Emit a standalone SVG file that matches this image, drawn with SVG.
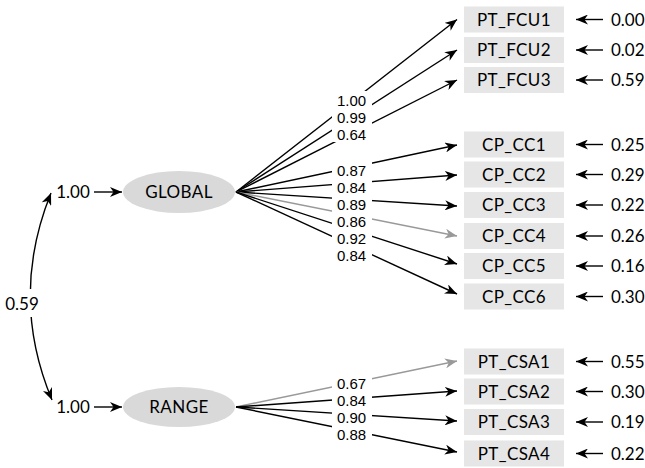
<svg xmlns="http://www.w3.org/2000/svg" width="645" height="468" viewBox="0 0 645 468">
<style>
text{font-family:Lato,"Open Sans","Liberation Sans",sans-serif;font-size:17px;fill:#000}
.n{letter-spacing:0.4px}
.l{font-family:"Liberation Sans",Arial,sans-serif;font-size:15px}
.box{fill:#e6e6e6}
.lat{fill:#d9d9d9}
.c{text-anchor:middle}
.e{stroke:#000;stroke-width:1.4;fill:none;marker-end:url(#ah)}
.g{stroke:#999;stroke-width:1.4;fill:none;marker-end:url(#ahg)}
.bg{fill:#fff}
</style>
<defs>
<marker id="ah" markerUnits="userSpaceOnUse" markerWidth="13" markerHeight="10" refX="12" refY="5" orient="auto-start-reverse" viewBox="0 0 13 10"><path d="M0,0 L12,5 L0,10 L3.5,5 z" fill="#000"/></marker>
<marker id="ahg" markerUnits="userSpaceOnUse" markerWidth="13" markerHeight="10" refX="12" refY="5" orient="auto" viewBox="0 0 13 10"><path d="M0,0 L12,5 L0,10 L3.5,5 z" fill="#999"/></marker>
</defs>
<g id="connectors">
<path class="e" d="M51,193 Q9,297 52,400" marker-start="url(#ah)"/>
<rect class="bg" x="0" y="289" width="45" height="28"/>
<line class="e" x1="94" y1="192" x2="122" y2="192"/>
<line class="e" x1="94" y1="407" x2="122" y2="407"/>
<line class="e" x1="236" y1="192" x2="457" y2="19.5"/>
<line class="e" x1="236" y1="192" x2="457" y2="50"/>
<line class="e" x1="236" y1="192" x2="457" y2="80"/>
<line class="e" x1="236" y1="192" x2="457" y2="145"/>
<line class="e" x1="236" y1="192" x2="457" y2="175"/>
<line class="e" x1="236" y1="192" x2="457" y2="206"/>
<line class="g" x1="236" y1="192" x2="457" y2="236"/>
<line class="e" x1="236" y1="192" x2="457" y2="264"/>
<line class="e" x1="236" y1="192" x2="457" y2="294"/>
<line class="g" x1="236" y1="407" x2="457" y2="361"/>
<line class="e" x1="236" y1="407" x2="457" y2="391"/>
<line class="e" x1="236" y1="407" x2="457" y2="421"/>
<line class="e" x1="236" y1="407" x2="457" y2="452"/>
<line class="e" x1="603" y1="19.5" x2="576" y2="19.5"/>
<line class="e" x1="603" y1="50" x2="576" y2="50"/>
<line class="e" x1="603" y1="80" x2="576" y2="80"/>
<line class="e" x1="603" y1="144.5" x2="576" y2="144.5"/>
<line class="e" x1="603" y1="174.5" x2="576" y2="174.5"/>
<line class="e" x1="603" y1="205" x2="576" y2="205"/>
<line class="e" x1="603" y1="236" x2="576" y2="236"/>
<line class="e" x1="603" y1="266" x2="576" y2="266"/>
<line class="e" x1="603" y1="296.5" x2="576" y2="296.5"/>
<line class="e" x1="603" y1="361.5" x2="576" y2="361.5"/>
<line class="e" x1="603" y1="391.5" x2="576" y2="391.5"/>
<line class="e" x1="603" y1="422" x2="576" y2="422"/>
<line class="e" x1="603" y1="453.5" x2="576" y2="453.5"/>
<rect class="bg" x="332" y="91" width="40" height="51"/>
<rect class="bg" x="332" y="161" width="40" height="102"/>
<rect class="bg" x="332" y="374" width="40" height="68"/>
</g>
<g id="labels">
<text class="c" x="22" y="310">0.59</text>
<text class="c" x="73" y="198">1.00</text>
<text class="c" x="73" y="413">1.00</text>
<text class="c l" x="351.5" y="105.5">1.00</text>
<text class="c l" x="351.5" y="122.5">0.99</text>
<text class="c l" x="351.5" y="139.5">0.64</text>
<text class="c l" x="351.5" y="175.5">0.87</text>
<text class="c l" x="351.5" y="192.5">0.84</text>
<text class="c l" x="351.5" y="209.5">0.89</text>
<text class="c l" x="351.5" y="226.5">0.86</text>
<text class="c l" x="351.5" y="243.5">0.92</text>
<text class="c l" x="351.5" y="260.5">0.84</text>
<text class="c l" x="351.5" y="388.5">0.67</text>
<text class="c l" x="351.5" y="405.5">0.84</text>
<text class="c l" x="351.5" y="422.5">0.90</text>
<text class="c l" x="351.5" y="439.5">0.88</text>
<text x="611" y="25.5">0.00</text>
<text x="611" y="56">0.02</text>
<text x="611" y="86">0.59</text>
<text x="611" y="150.5">0.25</text>
<text x="611" y="180.5">0.29</text>
<text x="611" y="211">0.22</text>
<text x="611" y="242">0.26</text>
<text x="611" y="272">0.16</text>
<text x="611" y="302.5">0.30</text>
<text x="611" y="367.5">0.55</text>
<text x="611" y="397.5">0.30</text>
<text x="611" y="428">0.19</text>
<text x="611" y="459.5">0.22</text>
</g>
<g id="GLOBAL"><ellipse class="lat" cx="179" cy="192" rx="56" ry="21"/><text class="c n" x="179" y="198">GLOBAL</text></g>
<g id="RANGE"><ellipse class="lat" cx="179" cy="407" rx="56" ry="20"/><text class="c n" x="179" y="413">RANGE</text></g>
<g id="PT_FCU1"><rect class="box" x="464" y="6.5" width="100" height="26"/><text class="c n" x="514" y="25.5">PT_FCU1</text></g>
<g id="PT_FCU2"><rect class="box" x="464" y="37" width="100" height="26"/><text class="c n" x="514" y="56">PT_FCU2</text></g>
<g id="PT_FCU3"><rect class="box" x="464" y="67" width="100" height="26"/><text class="c n" x="514" y="86">PT_FCU3</text></g>
<g id="CP_CC1"><rect class="box" x="464" y="131.5" width="100" height="26"/><text class="c n" x="514" y="150.5">CP_CC1</text></g>
<g id="CP_CC2"><rect class="box" x="464" y="161.5" width="100" height="26"/><text class="c n" x="514" y="180.5">CP_CC2</text></g>
<g id="CP_CC3"><rect class="box" x="464" y="192" width="100" height="26"/><text class="c n" x="514" y="211">CP_CC3</text></g>
<g id="CP_CC4"><rect class="box" x="464" y="223" width="100" height="26"/><text class="c n" x="514" y="242">CP_CC4</text></g>
<g id="CP_CC5"><rect class="box" x="464" y="253" width="100" height="26"/><text class="c n" x="514" y="272">CP_CC5</text></g>
<g id="CP_CC6"><rect class="box" x="464" y="283.5" width="100" height="26"/><text class="c n" x="514" y="302.5">CP_CC6</text></g>
<g id="PT_CSA1"><rect class="box" x="464" y="348.5" width="100" height="26"/><text class="c n" x="514" y="367.5">PT_CSA1</text></g>
<g id="PT_CSA2"><rect class="box" x="464" y="378.5" width="100" height="26"/><text class="c n" x="514" y="397.5">PT_CSA2</text></g>
<g id="PT_CSA3"><rect class="box" x="464" y="409" width="100" height="26"/><text class="c n" x="514" y="428">PT_CSA3</text></g>
<g id="PT_CSA4"><rect class="box" x="464" y="440.5" width="100" height="26"/><text class="c n" x="514" y="459.5">PT_CSA4</text></g>
</svg>
